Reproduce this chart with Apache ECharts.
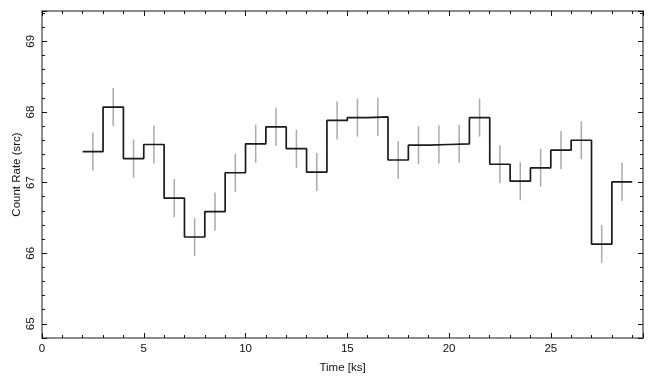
<!DOCTYPE html>
<html>
<head>
<meta charset="utf-8">
<script src="https://cdn.jsdelivr.net/npm/echarts@6/dist/echarts.min.js"></script>
<style>
  html, body { margin: 0; padding: 0; background: #fff; }
  #lc { width: 655px; height: 385px; }
</style>
</head>
<body>
<div id="lc"></div>
<script>
// light curve, 1 ks bins
var timeCenters = [2.5, 3.5, 4.5, 5.5, 6.5, 7.5, 8.5, 9.5, 10.5, 11.5, 12.5, 13.5, 14.5,
    15.5, 16.5, 17.5, 18.5, 19.5, 20.5, 21.5, 22.5, 23.5, 24.5, 25.5, 26.5, 27.5, 28.5];
var binHalfWidth = 0.5;
var countRate = [67.44, 68.07, 67.34, 67.54, 66.78, 66.23, 66.59, 67.14, 67.55, 67.79, 67.48, 67.15, 67.88,
    67.92, 67.93, 67.32, 67.53, 67.54, 67.55, 67.92, 67.26, 67.02, 67.21, 67.46, 67.60, 66.13, 67.01];
var rateErr = [0.27, 0.27, 0.27, 0.27, 0.27, 0.27, 0.27, 0.27, 0.27, 0.27, 0.27, 0.27, 0.27,
    0.27, 0.27, 0.27, 0.27, 0.27, 0.27, 0.27, 0.27, 0.27, 0.27, 0.27, 0.27, 0.27, 0.27];

var xRange = [0, 29.53];
var yRange = [64.8, 69.43];

// step outline: left edge of every bin, plus the right edge of the last one
var stepData = timeCenters.map(function (t, i) { return [t - binHalfWidth, countRate[i]]; });
stepData.push([timeCenters[timeCenters.length - 1] + binHalfWidth, countRate[countRate.length - 1]]);

var errData = timeCenters.map(function (t, i) { return [t, countRate[i] - rateErr[i], countRate[i] + rateErr[i]]; });

var font = 'Liberation Sans, Arial, sans-serif';
var frameLine = { show: true, onZero: false, lineStyle: { color: '#666', width: 1.5 } };

function xAx(pos, withLabels) {
    return {
        type: 'value', position: pos, min: xRange[0], max: xRange[1], interval: 5,
        axisLine: frameLine,
        axisTick: { inside: true, length: 5, lineStyle: { color: '#111', width: 1 } },
        minorTick: { show: true, splitNumber: 5, length: 3, lineStyle: { color: '#111', width: 1 } },
        splitLine: { show: false },
        axisLabel: {
            show: withLabels, margin: 5, color: '#111', fontFamily: font, fontSize: 11.5,
            formatter: function (v) { return v % 5 === 0 ? String(v) : ''; }
        },
        name: withLabels ? 'Time [ks]' : '', nameLocation: 'middle', nameGap: 24,
        nameMoveOverlap: false,
        nameTextStyle: { color: '#111', fontFamily: font, fontSize: 11.5 }
    };
}

function yAx(pos, withLabels) {
    return {
        type: 'value', position: pos, min: yRange[0], max: yRange[1], splitNumber: 5,
        axisLine: frameLine,
        axisTick: { inside: true, length: 5, lineStyle: { color: '#111', width: 1 } },
        minorTick: { show: true, splitNumber: 5, length: 3, lineStyle: { color: '#111', width: 1 } },
        splitLine: { show: false },
        axisLabel: {
            show: withLabels, margin: 5, rotate: 90, color: '#111', fontFamily: font, fontSize: 11.5,
            formatter: function (v) { return Math.abs(v - Math.round(v)) < 1e-6 ? String(Math.round(v)) : ''; }
        },
        name: withLabels ? 'Count Rate (src)' : '', nameLocation: 'middle', nameGap: 19,
        nameMoveOverlap: false,
        nameTextStyle: { color: '#111', fontFamily: font, fontSize: 11.5 }
    };
}

var chart = echarts.init(document.getElementById('lc'), null, { renderer: 'canvas' });
chart.setOption({
    animation: false,
    backgroundColor: '#fff',
    grid: { left: 42, right: 12, top: 11, bottom: 47, containLabel: false, outerBoundsMode: 'none' },
    xAxis: [xAx('bottom', true), xAx('top', false)],
    yAxis: [yAx('left', true), yAx('right', false)],
    series: [
        {
            type: 'custom',
            xAxisIndex: 0, yAxisIndex: 0,
            data: errData,
            renderItem: function (params, api) {
                var lo = api.coord([api.value(0), api.value(1)]);
                var hi = api.coord([api.value(0), api.value(2)]);
                return {
                    type: 'line',
                    shape: { x1: lo[0], y1: lo[1], x2: hi[0], y2: hi[1] },
                    style: { stroke: '#aaa', lineWidth: 1.5 }
                };
            },
            z: 2
        },
        {
            type: 'line',
            xAxisIndex: 0, yAxisIndex: 0,
            step: 'end',
            data: stepData,
            showSymbol: false,
            lineStyle: { color: '#1a1a1a', width: 1.7 },
            z: 3
        }
    ]
});
</script>
</body>
</html>
